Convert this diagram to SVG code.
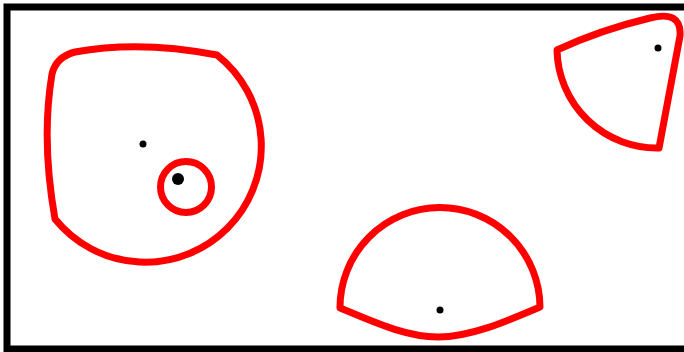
<svg xmlns="http://www.w3.org/2000/svg" width="684" height="352" viewBox="0 0 684 352">
<style>
.shape{fill:none;stroke:#ff0000;stroke-width:7;stroke-linejoin:round}
.dot{fill:#000}
</style>
<rect x="0" y="0" width="684" height="352" fill="#fff"/>
<rect x="7" y="7" width="690" height="342" fill="none" stroke="#000" stroke-width="7"/>
<g id="region-left">
<path class="shape" d="M 55,219 Q 41,140 52,74 Q 56,57 75,52 Q 140,40 217,55 A 116 116 0 1 1 55,219 Z"/>
<circle class="dot" cx="143" cy="144" r="3.5"/>
</g>
<g id="region-small">
<circle class="shape" cx="186" cy="187" r="25.5"/>
<circle class="dot" cx="178" cy="179" r="6"/>
</g>
<g id="region-bottom">
<path class="shape" d="M 340,308 A 100 100 0 0 1 540,307 C 505,322 470,337 438,337 C 405,337 372,321 340,308 Z"/>
<circle class="dot" cx="440" cy="310" r="3.5"/>
</g>
<g id="region-topright">
<path class="shape" d="M 557,50 Q 600,30 650,18 Q 682,10 680,36 L 659,148 A 100 100 0 0 1 557,50 Z"/>
<circle class="dot" cx="658" cy="48" r="3.5"/>
</g>
</svg>
